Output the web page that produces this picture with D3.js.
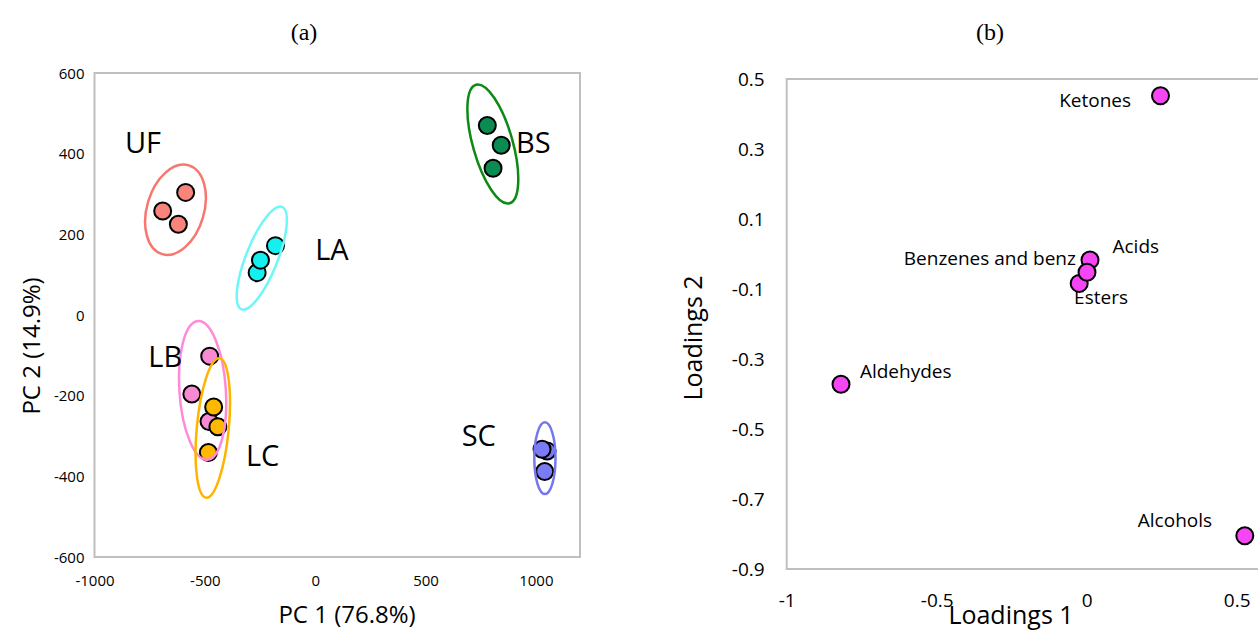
<!DOCTYPE html>
<html lang="en">
<head>
<meta charset="UTF-8">
<title>PCA scores and loadings</title>
<script src="https://cdn.jsdelivr.net/npm/d3@7/dist/d3.min.js"></script>
<style>
    body { margin: 0; background: #fff; }
    text { font-family: "Open Sans", sans-serif; fill: #000; }
</style>
</head>
<body>
<script>

    // ---------------- data, panel (a): scores ----------------
    var groups = ["UF", "LA", "BS", "LB", "LC", "SC"];

    var scoreGroup = ["UF", "UF", "UF",
                      "LA", "LA", "LA",
                      "BS", "BS", "BS",
                      "LB", "LB", "LB",
                      "LC", "LC", "LC",
                      "SC", "SC", "SC"];
    var pc1 = [-587, -691, -620,
               -263, -180, -248,
                780,  843,  806,
               -478, -559, -481,
               -460, -441, -484,
               1051, 1028, 1040];
    var pc2 = [ 304,  258,  225,
                105,  172,  136,
                470,  421,  364,
               -102, -196, -264,
               -228, -277, -341,
               -337, -333, -388];

    // confidence ellipses: centre plus the two semi-axis vectors, in data units
    var ellCx = [-633, -242, 805, -510, -464, 1041];
    var ellCy = [261, 141, 424, -187, -280, -355];
    var ellMajor = [[60, 110], [92, 127], [-76, 147], [-21, 172], [30, 173], [0, 89]];
    var ellMinor = [[124, -20], [67, -14], [87, 13], [105, 4], [72, -4], [48, 0]];

    // group name labels (data units, left end of the text baseline)
    var groupLabelX = [-862, 0, 910, -756, -314, 664];
    var groupLabelY = [402, 136, 402, -128, -374, -324];

    var xTicksA = [-1000, -500, 0, 500, 1000];
    var yTicksA = [-600, -400, -200, 0, 200, 400, 600];

    // ---------------- data, panel (b): loadings ----------------
    var loadingNames = ["Ketones", "Aldehydes", "Alcohols", "Esters", "Acids", "Benzenes and benz"];
    var loading1 = [0.246, -0.819, 0.527, -0.025, 0.011, 0.001];
    var loading2 = [0.452, -0.372, -0.805, -0.084, -0.017, -0.052];
    var loadLabelX = [0.148, -0.756, 0.418, -0.042, 0.086, -0.036];
    var loadLabelY = [0.421, -0.354, -0.779, -0.143, 0.003, -0.031];

    var xTicksB = [-1, -0.5, 0, 0.5, 1];
    var yTicksB = [0.5, 0.3, 0.1, -0.1, -0.3, -0.5, -0.7, -0.9];

    // ---------------- layout ----------------
    var width = 1258, height = 630;
    var svg = d3.select("body").append("svg")
        .attr("width", width)
        .attr("height", height);

    var frameColor = "#bfbfbf";
    var plain = function (d) { return String(d); };   // keep the ascii hyphen

    var fill = d3.scaleOrdinal()
        .domain(groups)
        .range(["#f8847c", "#14f0f0", "#0b8a52", "#f78ad2", "#ffb800", "#7b7bf6"]);
    var ring = d3.scaleOrdinal()
        .domain(groups)
        .range(["#f7776f", "#6ff7f7", "#0c8a14", "#ff8ad8", "#ffb300", "#7777ee"]);

    // ================= panel (a) =================
    var xA = d3.scaleLinear().domain([-1000, 1200]).range([94.5, 580]);
    var yA = d3.scaleLinear().domain([-600, 600]).range([557, 73]);

    var pa = svg.append("g");

    pa.append("rect")
        .attr("x", xA(-1000)).attr("y", yA(600))
        .attr("width", xA(1200) - xA(-1000))
        .attr("height", yA(-600) - yA(600))
        .attr("fill", "none")
        .attr("stroke", frameColor)
        .attr("stroke-width", 2);

    var axA = pa.append("g")
        .attr("transform", "translate(0," + yA(-600) + ")")
        .call(d3.axisBottom(xA).tickValues(xTicksA).tickSize(0).tickFormat(plain));
    axA.select(".domain").remove();
    axA.selectAll("text")
        .attr("y", 24).attr("dy", "0.35em")
        .attr("font-size", 15).attr("font-family", null);

    var ayA = pa.append("g")
        .attr("transform", "translate(" + xA(-1000) + ",0)")
        .call(d3.axisLeft(yA).tickValues(yTicksA).tickSize(0).tickFormat(plain));
    ayA.select(".domain").remove();
    ayA.selectAll("text")
        .attr("x", -10).attr("dy", "0.35em")
        .attr("font-size", 15).attr("font-family", null);

    pa.append("text")
        .attr("x", 347).attr("y", 623)
        .attr("text-anchor", "middle")
        .attr("font-size", 24)
        .text("PC 1 (76.8%)");

    pa.append("text")
        .attr("transform", "translate(40,346) rotate(-90)")
        .attr("text-anchor", "middle")
        .attr("font-size", 24)
        .text("PC 2 (14.9%)");

    pa.append("text")
        .attr("x", 304).attr("y", 40)
        .attr("text-anchor", "middle")
        .style("font-family", "'Liberation Serif', serif")
        .attr("font-size", 24)
        .text("(a)");

    // points
    pa.append("g").selectAll("circle")
        .data(pc1)
        .join("circle")
        .attr("cx", function (d) { return xA(d); })
        .attr("cy", function (d, i) { return yA(pc2[i]); })
        .attr("r", 8.5)
        .attr("fill", function (d, i) { return fill(scoreGroup[i]); })
        .attr("stroke", "#000")
        .attr("stroke-width", 2);

    // ellipses drawn on top of the points, like the original
    pa.append("g").selectAll("ellipse")
        .data(groups)
        .join("ellipse")
        .each(function (g, i) {
            var cx = xA(ellCx[i]), cy = yA(ellCy[i]);
            var u = [xA(ellCx[i] + ellMajor[i][0]) - cx, yA(ellCy[i] + ellMajor[i][1]) - cy];
            var v = [xA(ellCx[i] + ellMinor[i][0]) - cx, yA(ellCy[i] + ellMinor[i][1]) - cy];
            var ang = Math.atan2(u[0], -u[1]) * 180 / Math.PI;
            d3.select(this)
                .attr("cx", cx).attr("cy", cy)
                .attr("rx", Math.hypot(v[0], v[1]))
                .attr("ry", Math.hypot(u[0], u[1]))
                .attr("transform", "rotate(" + ang + "," + cx + "," + cy + ")");
        })
        .attr("fill", "none")
        .attr("stroke", function (g) { return ring(g); })
        .attr("stroke-width", 2.5);

    pa.append("g").selectAll("text")
        .data(groups)
        .join("text")
        .attr("x", function (g, i) { return xA(groupLabelX[i]); })
        .attr("y", function (g, i) { return yA(groupLabelY[i]); })
        .attr("font-size", 29)
        .text(function (g) { return g; });

    // ================= panel (b) =================
    var xB = d3.scaleLinear().domain([-1, 1]).range([786.7, 1386.7]);
    var yB = d3.scaleLinear().domain([-0.9, 0.5]).range([569, 79]);

    var pb = svg.append("g");

    pb.append("rect")
        .attr("x", xB(-1)).attr("y", yB(0.5))
        .attr("width", xB(1) - xB(-1))
        .attr("height", yB(-0.9) - yB(0.5))
        .attr("fill", "none")
        .attr("stroke", frameColor)
        .attr("stroke-width", 2);

    var axB = pb.append("g")
        .attr("transform", "translate(0," + yB(-0.9) + ")")
        .call(d3.axisBottom(xB).tickValues(xTicksB).tickSize(0).tickFormat(plain));
    axB.select(".domain").remove();
    axB.selectAll("text")
        .attr("y", 31).attr("dy", "0.35em")
        .attr("font-size", 19).attr("font-family", null);

    var ayB = pb.append("g")
        .attr("transform", "translate(" + xB(-1) + ",0)")
        .call(d3.axisLeft(yB).tickValues(yTicksB).tickSize(0).tickFormat(plain));
    ayB.select(".domain").remove();
    ayB.selectAll("text")
        .attr("x", -22).attr("dy", "0.35em")
        .attr("font-size", 19).attr("font-family", null);

    pb.append("text")
        .attr("x", 1011).attr("y", 624)
        .attr("text-anchor", "middle")
        .attr("font-size", 25)
        .text("Loadings 1");

    pb.append("text")
        .attr("transform", "translate(702,338) rotate(-90)")
        .attr("text-anchor", "middle")
        .attr("font-size", 25)
        .text("Loadings 2");

    pb.append("text")
        .attr("x", 990).attr("y", 40)
        .attr("text-anchor", "middle")
        .style("font-family", "'Liberation Serif', serif")
        .attr("font-size", 24)
        .text("(b)");

    pb.append("g").selectAll("circle")
        .data(loading1)
        .join("circle")
        .attr("cx", function (d) { return xB(d); })
        .attr("cy", function (d, i) { return yB(loading2[i]); })
        .attr("r", 8.5)
        .attr("fill", "#f545f5")
        .attr("stroke", "#000")
        .attr("stroke-width", 2);

    // which side of its point each label sits on
    var loadAnchor = ["end", "start", "end", "start", "start", "end"];

    pb.append("g").selectAll("text")
        .data(loadingNames)
        .join("text")
        .attr("x", function (d, i) { return xB(loadLabelX[i]); })
        .attr("y", function (d, i) { return yB(loadLabelY[i]); })
        .attr("text-anchor", function (d, i) { return loadAnchor[i]; })
        .attr("font-size", 19)
        .text(function (d) { return d; });

</script>
</body>
</html>
